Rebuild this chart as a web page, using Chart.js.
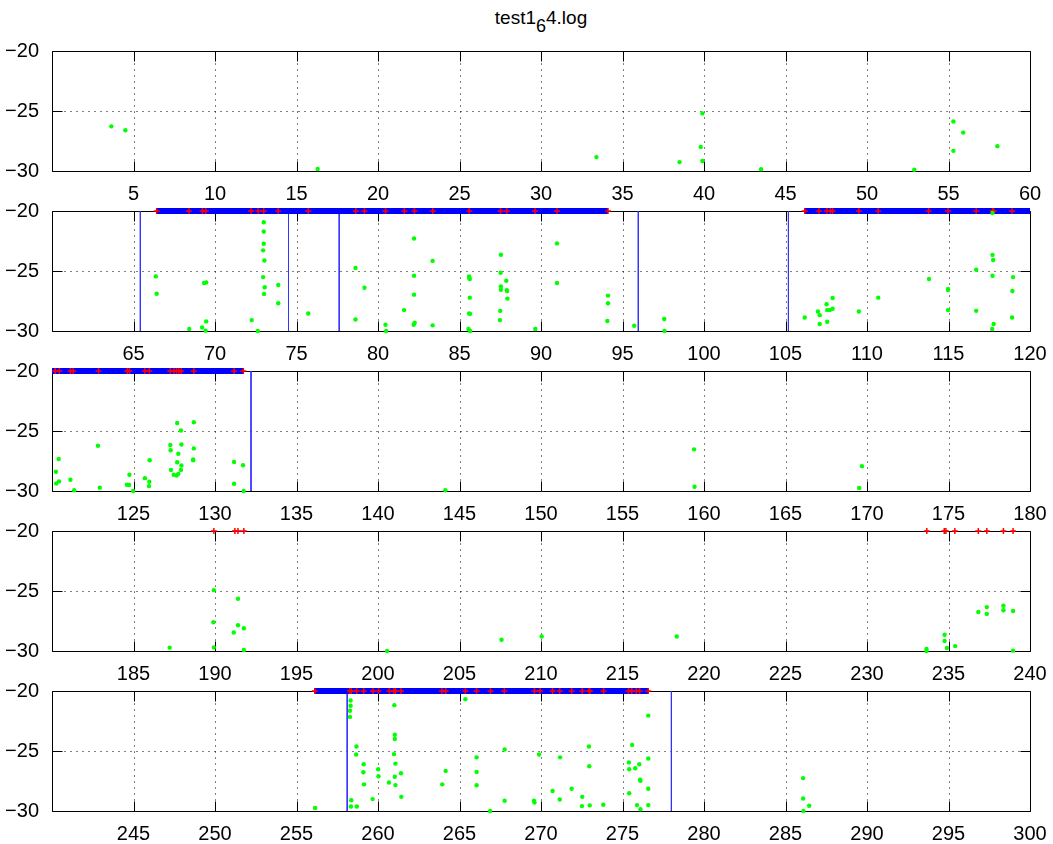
<!DOCTYPE html>
<html>
<head>
<meta charset="utf-8">
<script src="https://cdn.jsdelivr.net/npm/chart.js@4"></script>
<style>
	body { margin: 0; background: #fff; }
	#lienzo { position: relative; width: 1053px; height: 844px; background: #fff; font-family: "Liberation Sans", Arial, sans-serif; }
	#titulo { position: absolute; left: 0; width: 1082px; top: 7px; text-align: center; font-size: 19px; color: #000; }
	#titulo sub { font-size: 18px; vertical-align: -8px; line-height: 0; }
	canvas { position: absolute; left: 0; }
</style>
</head>
<body>
<div id="lienzo">
	<div id="titulo">test1<sub>6</sub>4.log</div>
</div>
<script>
// rangos del eje x de cada subgrafico
const rangosX = [[0, 60], [60, 120], [120, 180], [180, 240], [240, 300]];
const ticksY = [-30, -25, -20];

// puntos verdes (x, y)
const verdeX = [
	3.64, 4.5, 16.3, 33.4, 38.5, 39.9, 39.8, 39.9, 43.5, 52.9, 55.3, 55.3, 55.9, 58.0,
	66.37, 66.42, 68.42, 69.21, 69.33, 69.46, 69.46, 69.42, 72.25, 72.63, 72.99, 72.99, 72.99, 72.95, 73.03, 72.95, 73.05, 73.01,
	73.88, 73.88, 75.72, 78.62, 78.62, 79.17, 80.46, 80.5, 81.6, 82.21, 82.21, 82.21, 82.25, 82.19, 83.35, 83.35,
	85.59, 85.6, 85.63, 85.63, 85.59, 85.65, 85.55, 85.65, 87.54, 87.52, 87.54, 87.54, 87.5, 87.48, 87.87, 87.9, 87.92, 87.94,
	89.65, 90.98, 90.98, 94.11, 94.11, 94.07, 95.72, 97.56, 97.58,
	106.18, 106.99, 107.1, 107.1, 107.52, 107.56, 107.56, 107.72, 107.89, 107.89, 109.5, 110.69, 113.8, 114.97, 114.97, 114.97,
	116.7, 116.7, 117.7, 117.7, 117.74, 117.7, 117.77, 117.68, 118.96, 118.92, 118.9,
	120.24, 120.26, 120.43, 120.41, 121.13, 121.36, 122.82, 122.93, 124.75, 124.6, 124.73, 124.98, 125.7, 125.97, 125.95, 125.99,
	127.26, 127.28, 127.3, 127.47, 127.64, 127.75, 127.68, 127.68, 127.75, 127.91, 127.94, 127.94, 127.91, 128.7, 128.7, 128.66, 128.66,
	131.17, 131.17, 131.72, 131.76, 144.13, 159.39, 159.42, 169.69, 169.52,
	187.22, 189.93, 189.9, 189.93, 191.41, 191.41, 191.15, 191.77, 191.77, 200.56, 207.58, 210.04, 218.33,
	233.65, 233.65, 234.76, 234.76, 234.9, 235.41, 236.83, 237.35, 237.35, 238.37, 238.37, 238.96, 238.96,
	256.14, 258.32, 258.32, 258.28, 258.28, 258.68, 258.66, 258.36, 258.34, 258.7, 259.12, 259.1, 259.14, 259.67, 260.01, 260.03, 260.67,
	261.0, 261.03, 261.03, 260.98, 261.07, 261.03, 261.07, 261.41, 261.43, 263.94, 264.15, 265.36, 266.05, 266.05, 266.05, 266.88,
	267.77, 267.77, 269.57, 269.6, 269.88, 270.71, 271.17, 271.15, 271.88, 272.53, 272.51, 272.94, 272.96, 272.99, 273.82,
	275.59, 275.39, 275.41, 275.41, 275.78, 276.03, 276.08, 276.1, 275.89, 276.1, 276.58, 276.58, 276.58, 276.58,
	286.08, 286.08, 286.45, 286.1
];
const verdeY = [
	-26.28, -26.6, -29.83, -28.84, -29.26, -25.2, -27.99, -29.17, -29.86, -29.89, -25.87, -28.32, -26.8, -27.93,
	-25.45, -26.89, -29.83, -29.7, -26.0, -25.95, -29.2, -29.97, -29.09, -30.0, -20.94, -21.71, -22.73, -23.28, -24.13, -25.51, -26.36, -26.91,
	-26.17, -27.69, -28.54, -24.74, -29.04, -26.39, -29.48, -30.0, -28.26, -22.29, -25.4, -26.97, -29.31, -29.48, -24.16, -29.53,
	-25.45, -25.59, -25.67, -27.22, -28.54, -28.57, -29.83, -30.0, -23.64, -25.15, -26.28, -26.56, -28.32, -29.09, -25.81, -26.61, -26.67, -27.3,
	-29.83, -22.7, -26.0, -27.05, -27.69, -29.17, -29.56, -29.0, -30.0,
	-28.87, -28.37, -28.68, -29.42, -27.77, -28.26, -29.23, -28.26, -28.15, -27.25, -28.37, -27.22, -25.67, -26.5, -26.58, -28.26,
	-24.9, -28.32, -20.17, -23.66, -24.08, -25.4, -29.42, -29.83, -25.51, -26.67, -28.87,
	-28.4, -29.37, -29.2, -27.33, -29.06, -29.94, -26.23, -29.72, -28.65, -29.48, -29.5, -30.0, -28.93, -29.23, -29.59, -27.44,
	-26.17, -26.61, -28.24, -28.65, -28.71, -28.57, -24.33, -27.6, -26.89, -24.96, -26.12, -27.88, -28.24, -24.27, -26.45, -27.38, -27.44,
	-27.58, -29.39, -27.85, -30.0, -29.94, -26.53, -29.64, -27.93, -29.75,
	-29.72, -24.93, -27.6, -29.7, -25.65, -27.85, -28.46, -28.1, -29.92, -30.0, -29.06, -28.79, -28.79,
	-29.83, -30.0, -28.65, -29.17, -29.75, -29.59, -26.75, -26.34, -26.91, -26.23, -26.61, -26.67, -29.97,
	-29.75, -20.79, -21.23, -21.64, -22.16, -24.63, -25.29, -29.1, -29.62, -29.62, -26.11, -26.77, -27.78, -29.01, -26.52, -27.1, -27.62,
	-21.18, -23.64, -24.0, -25.26, -26.05, -27.15, -27.84, -26.85, -28.82, -27.78, -26.66, -20.68, -25.53, -26.74, -27.86, -30.0,
	-24.88, -29.15, -29.15, -29.29, -25.29, -28.33, -25.53, -29.04, -28.14, -28.82, -29.59, -24.63, -26.27, -29.53, -29.48,
	-24.49, -25.95, -26.52, -28.52, -26.44, -26.11, -27.4, -27.48, -29.51, -29.86, -22.05, -25.62, -28.14, -29.51,
	-27.26, -28.96, -29.56, -30.0
];

// cruces rojas sobre la linea de -20
const rojoX = [
	66.42, 68.4, 69.23, 69.44, 72.21, 72.65, 72.99, 73.88, 75.72, 78.64, 79.17, 80.46, 81.62, 82.24, 83.36, 85.6, 87.52, 87.9, 89.63,
	90.98, 94.11, 106.18, 107.06, 107.54, 107.75, 107.89, 109.5, 110.69, 113.78, 114.97, 116.7, 117.7, 117.77, 118.9,
	120.2, 120.45, 121.13, 121.3, 122.86, 124.62, 124.75, 125.7, 125.97, 127.26, 127.49, 127.64, 127.79, 127.93, 128.7, 131.17, 131.74,
	189.93, 191.22, 191.41, 191.77, 233.67, 234.74, 234.84, 235.39, 236.83, 237.35, 238.37, 238.96,
	256.12, 258.28, 258.36, 258.7, 259.12, 259.69, 260.03, 260.69, 260.98, 261.07, 261.41, 263.92, 264.15, 265.36, 266.05, 266.9, 267.75,
	269.6, 269.94, 270.71, 271.15, 271.88, 272.53, 272.95, 273.0, 273.84, 275.37, 275.57, 275.85, 276.05, 276.58
];
const nivelRojo = -20;

// tramos gruesos azules en -20 (inicio, fin)
const barraIni = [66.42, 106.14, 256.12];
const barraFin = [94.11, 131.76, 276.62];

// lineas verticales azules
const verticalX = [65.42, 74.51, 77.62, 95.97, 105.18, 132.21, 258.11, 278.0];

const fuente = { family: "'Liberation Sans', Arial, sans-serif", size: 20 };

// rejilla punteada, marco y marcas de ticks (estilo matlab)
const marco = {
	id: 'marco',
	beforeDatasetsDraw(chart) {
		const { ctx, chartArea: a, scales: { x, y } } = chart;
		const l = Math.round(a.left) + 0.5, r = Math.round(a.right) + 0.5;
		const t = Math.round(a.top) + 0.5, b = Math.round(a.bottom) + 0.5;
		ctx.save();
		ctx.strokeStyle = '#000';
		ctx.lineWidth = 1;
		ctx.setLineDash([1, 5]);
		ctx.beginPath();
		x.ticks.forEach(tk => {
			if (tk.value <= x.min || tk.value >= x.max) return;
			const px = Math.round(x.getPixelForValue(tk.value)) + 0.5;
			ctx.moveTo(px, t); ctx.lineTo(px, b);
		});
		y.ticks.forEach(tk => {
			if (tk.value <= y.min || tk.value >= y.max) return;
			const py = Math.round(y.getPixelForValue(tk.value)) + 0.5;
			ctx.moveTo(l, py); ctx.lineTo(r, py);
		});
		ctx.stroke();
		ctx.setLineDash([]);
		ctx.beginPath();
		x.ticks.forEach(tk => {
			const px = Math.round(x.getPixelForValue(tk.value)) + 0.5;
			ctx.moveTo(px, b); ctx.lineTo(px, b - 10);
			ctx.moveTo(px, t); ctx.lineTo(px, t + 10);
		});
		y.ticks.forEach(tk => {
			const py = Math.round(y.getPixelForValue(tk.value)) + 0.5;
			ctx.moveTo(l, py); ctx.lineTo(l + 10, py);
			ctx.moveTo(r, py); ctx.lineTo(r - 10, py);
		});
		ctx.rect(l, t, r - l, b - t);
		ctx.stroke();
		ctx.restore();
	}
};

const lienzo = document.getElementById('lienzo');

rangosX.forEach(([x0, x1], i) => {
	const canvas = document.createElement('canvas');
	canvas.width = 1053;
	canvas.height = 160;
	canvas.style.top = (40 + 160 * i) + 'px';
	lienzo.appendChild(canvas);

	const dentro = v => v >= x0 && v <= x1;
	const datasets = [];

	// verdes (encima de todo)
	const verdes = [];
	verdeX.forEach((v, k) => { if (dentro(v)) verdes.push({ x: v, y: verdeY[k] }); });
	datasets.push({
		data: verdes, showLine: false, pointStyle: 'circle', pointRadius: 2.2,
		backgroundColor: '#00ff00', borderWidth: 0, clip: false
	});

	// rojas
	const rojas = rojoX.filter(dentro).map(v => ({ x: v, y: nivelRojo }));
	datasets.push({
		data: rojas, showLine: false, pointStyle: 'cross', pointRadius: 3,
		borderColor: '#ff0000', borderWidth: 1.5, clip: false
	});

	// tramos azules gruesos
	barraIni.forEach((a, k) => {
		const b = barraFin[k];
		if (b < x0 || a > x1) return;
		datasets.push({
			data: [{ x: Math.max(a, x0), y: nivelRojo }, { x: Math.min(b, x1), y: nivelRojo }],
			showLine: true, borderColor: '#0000ff', borderWidth: 6, pointRadius: 0, clip: false
		});
	});

	// verticales azules
	verticalX.filter(dentro).forEach(v => {
		datasets.push({
			data: [{ x: v, y: ticksY[2] }, { x: v, y: ticksY[0] }],
			showLine: true, borderColor: '#3333ff', borderWidth: 1, pointRadius: 0, clip: false
		});
	});

	new Chart(canvas, {
		type: 'scatter',
		data: { datasets },
		options: {
			responsive: false,
			animation: false,
			devicePixelRatio: 1,
			layout: { padding: { top: 11, right: 23, left: 0, bottom: 0 } },
			plugins: { legend: { display: false }, tooltip: { enabled: false } },
			scales: {
				x: {
					type: 'linear', min: x0, max: x1,
					grid: { display: false }, border: { display: false },
					ticks: {
						stepSize: 5, color: '#000', font: fuente, padding: 3, maxRotation: 0,
						callback: v => (v === x0 ? '' : v)
					},
					afterFit: s => { s.height = 29; s.paddingLeft = 0; s.paddingRight = 0; }
				},
				y: {
					type: 'linear', min: ticksY[0], max: ticksY[2],
					grid: { display: false }, border: { display: false },
					ticks: {
						stepSize: 5, color: '#000', font: fuente, padding: 5,
						callback: v => (v < 0 ? '\u2212' + Math.abs(v) : v)
					},
					afterFit: s => { s.width = 52; s.paddingTop = 0; s.paddingBottom = 0; }
				}
			}
		},
		plugins: [marco]
	});
});
</script>
</body>
</html>
